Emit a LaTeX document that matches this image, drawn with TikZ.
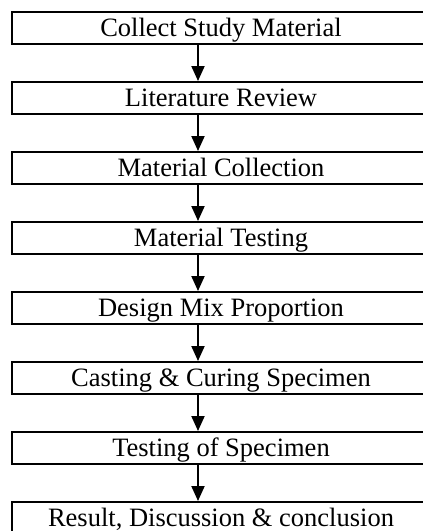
\documentclass[tikz,border=0pt]{standalone}
\usepackage{fontspec}
\setmainfont{Liberation Serif}
\usetikzlibrary{arrows.meta}

\tikzset{
  stepbox/.style={draw, line width=2pt, minimum width=418pt, minimum height=32pt,
    inner sep=0pt, text height=17.5pt, text depth=0pt,
    font=\fontsize{26.5}{30}\selectfont},
  flow/.style={line width=2pt, -{Triangle[width=13pt,length=15pt]}}
}

\begin{document}
\begin{tikzpicture}[x=1pt,y=-1pt]
  \clip (0,0) rectangle (423,531);
  \fill[white] (0,0) rectangle (423,531);

  \node[stepbox] (s1) at (221,28)  {Collect Study Material};
  \node[stepbox] (s2) at (221,98)  {Literature Review};
  \node[stepbox] (s3) at (221,168) {Material Collection};
  \node[stepbox] (s4) at (221,238) {Material Testing};
  \node[stepbox] (s5) at (221,308) {Design Mix Proportion};
  \node[stepbox] (s6) at (221,378) {Casting \& Curing Specimen};
  \node[stepbox] (s7) at (221,448) {Testing of Specimen};
  \node[stepbox] (s8) at (221,518) {Result, Discussion \& conclusion};

  \foreach \a/\b in {s1/s2,s2/s3,s3/s4,s4/s5,s5/s6,s6/s7,s7/s8}
    \draw[flow] ([xshift=-23pt]\a.south) -- ([xshift=-23pt]\b.north);
\end{tikzpicture}
\end{document}
